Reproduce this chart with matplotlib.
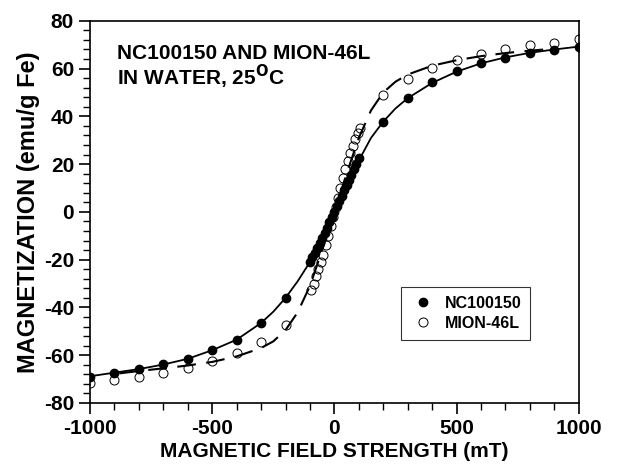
import numpy as np
import matplotlib.pyplot as plt
from matplotlib.ticker import MultipleLocator

plt.rcParams['font.family'] = ['Liberation Sans', 'DejaVu Sans']
plt.rcParams['font.weight'] = 'bold'
plt.rcParams['axes.unicode_minus'] = False

# NC100150 data (filled circles)
nc_x = [-1000, -900, -800, -700, -600, -500, -400, -300, -200,
        -100, -90, -80, -70, -60, -50, -40, -30, -20, -10, 0,
        10, 20, 30, 40, 50, 60, 70, 80, 90, 100,
        200, 300, 400, 500, 600, 700, 800, 900, 1000]
nc_y = [-69.0, -67.3, -65.9, -63.8, -61.7, -57.8, -53.6, -46.6, -36.1,
        -21.0, -19.0, -17.0, -15.0, -13.0, -11.0, -9.0, -6.6, -4.4, -2.2, 0.0,
        2.3, 4.6, 6.8, 9.0, 11.2, 13.4, 15.6, 17.8, 20.0, 22.5,
        37.6, 47.6, 54.2, 58.8, 62.3, 64.6, 66.5, 67.9, 69.2]

# MION-46L data (open circles)
mion_x = [-1000, -900, -800, -700, -600, -500, -400, -300, -200,
          -95, -85, -75, -65, -55, -45, -35, -25, -15, -5,
          5, 15, 25, 35, 45, 55, 65, 75, 85, 95, 104,
          200, 300, 400, 500, 600, 700, 800, 900, 1000]
mion_y = [-71.7, -70.4, -69.0, -67.6, -65.2, -62.3, -59.2, -54.6, -47.3,
          -32.5, -30.0, -27.0, -24.0, -21.0, -18.0, -14.0, -10.0, -6.0, -2.0,
          2.0, 6.0, 10.0, 14.0, 18.0, 21.5, 24.5, 27.5, 30.5, 33.0, 35.0,
          49.0, 55.7, 60.2, 63.7, 66.2, 68.1, 69.9, 70.9, 72.3]

# fit curves
nc_fit_x = [-1000, -900, -800, -700, -600, -500, -400, -300, -250, -200, -150,
            -100, -50, 0, 50, 100, 150, 200, 250, 300, 400, 500, 600, 700, 800, 900, 1000]
nc_fit_y = [-68.8, -67.3, -65.8, -63.9, -61.5, -57.9, -53.5, -46.5, -41.8, -36.0, -29.0,
            -21.0, -11.0, 0.0, 11.0, 21.5, 31.0, 37.8, 43.3, 47.6, 54.0, 58.7, 62.2, 64.7, 66.6, 68.0, 69.2]

mion_fit_x = [-880, -800, -700, -600, -500, -400, -300, -250, -200, -150, -100, -50,
              0, 50, 100, 150, 200, 250, 300, 400, 500, 600, 700, 800, 860]
mion_fit_y = [-67.6, -66.6, -65.5, -64.3, -62.8, -60.5, -57.0, -54.2, -49.5, -42.0, -31.0, -16.0,
              0.0, 16.0, 31.0, 42.5, 50.0, 54.5, 57.5, 61.2, 63.5, 65.2, 66.5, 67.5, 68.0]

fig = plt.figure(figsize=(6.25, 4.73), dpi=100)
ax = fig.add_axes([0.144, 0.148, 0.782, 0.808])

ax.plot(nc_fit_x, nc_fit_y, 'k-', linewidth=1.3)
ax.plot(mion_fit_x, mion_fit_y, 'k-', linewidth=1.5, dashes=(9, 5))
ax.plot(nc_x, nc_y, 'o', color='k', markersize=6, linestyle='none', label='NC100150')
ax.plot(mion_x, mion_y, 'o', markerfacecolor='none', markeredgecolor='k',
        markeredgewidth=0.7, markersize=6.5, linestyle='none', label='MION-46L')

ax.set_xlim(-1000, 1000)
ax.set_ylim(-80, 80)
ax.xaxis.set_major_locator(MultipleLocator(500))
ax.xaxis.set_minor_locator(MultipleLocator(100))
ax.yaxis.set_major_locator(MultipleLocator(20))
ax.yaxis.set_minor_locator(MultipleLocator(4))
ax.tick_params(which='major', direction='out', length=8, width=1.2, labelsize=15)
ax.tick_params(which='minor', direction='out', length=5, width=1)
for s in ax.spines.values():
    s.set_linewidth(1.2)
for lab in ax.get_xticklabels() + ax.get_yticklabels():
    lab.set_fontweight('bold')

ax.set_xlabel('MAGNETIC FIELD STRENGTH (mT)', fontsize=15, fontweight='bold', labelpad=3)
ax.set_ylabel('MAGNETIZATION (emu/g Fe)', fontsize=17, fontweight='bold', labelpad=3)

ax.text(0.055, 0.94, 'NC100150 AND MION-46L\nIN WATER, 25$^{\\mathbf{O}}$C',
        transform=ax.transAxes, fontsize=15, fontweight='bold', va='top', ha='left',
        linespacing=1.0)

leg = ax.legend(loc='lower left', bbox_to_anchor=(0.62, 0.145), frameon=True,
                fancybox=False, edgecolor='k', fontsize=11.5, handletextpad=0.6,
                borderpad=0.55, labelspacing=0.3, handlelength=1.6)
leg.get_frame().set_linewidth(0.8)
for t in leg.get_texts():
    t.set_fontweight('bold')

fig.savefig('out.png', dpi=100)
